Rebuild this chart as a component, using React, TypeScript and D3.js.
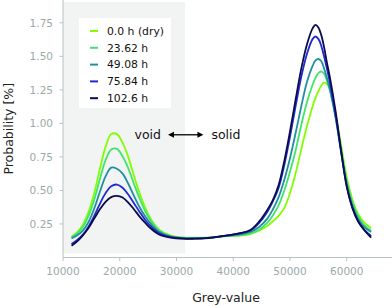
import React from 'react';
import * as d3 from 'd3';

// grey-value sample positions (x)
const greyValues = [
    11500, 12500, 13500, 14500, 15500, 16500, 17500, 18500, 19500, 20500, 21500, 22500, 23500, 24500, 25500, 27000, 29000, 31000,
    33000, 35000, 37000,
    39000, 41000, 43000, 44500, 46000, 47000, 48000, 49000, 50000, 51000, 52000, 53000, 54000, 54500, 55000, 55500, 56000, 56500, 57000, 58000, 59000, 60000, 61000, 62000, 63000, 64300,
];

const dry = [
    0.155, 0.19, 0.245, 0.34, 0.48, 0.66, 0.825, 0.92, 0.92, 0.855, 0.75, 0.61, 0.48, 0.37, 0.285, 0.205, 0.163, 0.15,
    0.148, 0.148, 0.152,
    0.16, 0.163, 0.175, 0.2, 0.235, 0.27, 0.31, 0.37, 0.48, 0.63, 0.81, 0.98, 1.13, 1.19, 1.24, 1.28, 1.303, 1.295, 1.26, 1.08, 0.84, 0.6, 0.43, 0.325, 0.265, 0.218,
];
const h23 = [
    0.15, 0.18, 0.228, 0.31, 0.43, 0.585, 0.725, 0.805, 0.81, 0.755, 0.665, 0.55, 0.44, 0.345, 0.272, 0.2, 0.16, 0.148,
    0.146, 0.147, 0.152,
    0.162, 0.165, 0.18, 0.205, 0.26, 0.315, 0.39, 0.5, 0.64, 0.8, 0.99, 1.16, 1.29, 1.34, 1.375, 1.387, 1.37, 1.32, 1.25, 1.06, 0.81, 0.57, 0.41, 0.31, 0.245, 0.2,
];
const h49 = [
    0.143, 0.165, 0.2, 0.265, 0.365, 0.49, 0.605, 0.67, 0.662, 0.625, 0.55, 0.46, 0.375, 0.305, 0.25, 0.19, 0.155, 0.145,
    0.143, 0.145, 0.152,
    0.163, 0.17, 0.19, 0.225, 0.29, 0.36, 0.45, 0.58, 0.74, 0.93, 1.13, 1.31, 1.43, 1.47, 1.48, 1.465, 1.41, 1.34, 1.26, 1.05, 0.79, 0.55, 0.39, 0.29, 0.23, 0.19,
];
const h75 = [
    0.10, 0.13, 0.17, 0.23, 0.31, 0.40, 0.48, 0.532, 0.544, 0.52, 0.47, 0.405, 0.34, 0.28, 0.232, 0.18, 0.152, 0.143,
    0.141, 0.144, 0.152,
    0.165, 0.178, 0.2, 0.255, 0.34, 0.42, 0.52, 0.69, 0.9, 1.13, 1.35, 1.52, 1.63, 1.648, 1.63, 1.58, 1.5, 1.41, 1.31, 1.07, 0.79, 0.53, 0.37, 0.27, 0.21, 0.16,
];
const h102 = [
    0.088, 0.12, 0.165, 0.22, 0.29, 0.36, 0.415, 0.45, 0.459, 0.447, 0.41, 0.36, 0.305, 0.258, 0.215, 0.17, 0.148, 0.14,
    0.14, 0.143, 0.153,
    0.165, 0.18, 0.205, 0.265, 0.355, 0.43, 0.54, 0.72, 0.94, 1.18, 1.41, 1.59, 1.71, 1.735, 1.715, 1.66, 1.57, 1.455, 1.35, 1.1, 0.8, 0.53, 0.37, 0.27, 0.21, 0.148,
];

const seriesLabels = ['0.0 h (dry)', '23.62 h', '49.08 h', '75.84 h', '102.6 h'];
const seriesColors = ['#7fff00', '#40e46a', '#20909f', '#1f2ad0', '#0b0b4e'];
const seriesValues = [dry, h23, h49, h75, h102];

const xTicks = [10000, 20000, 30000, 40000, 50000, 60000];
const yTicks = [0.25, 0.5, 0.75, 1.0, 1.25, 1.5, 1.75];

const width = 392;
const height = 306;
const font = '"DejaVu Sans", sans-serif';
const tickColor = '#9aa9aa';
const spineColor = '#b8c2c2';

const App: React.FC = () => {
    const xScale = d3.scaleLinear().domain([10000, 67800]).range([63, 391]);
    const yScale = d3.scaleLinear().domain([0, 1.92]).range([257.5, 0]);

    const line = d3.line<number>()
        .x((d, i) => xScale(greyValues[i]))
        .y(d => yScale(d))
        .curve(d3.curveCatmullRom.alpha(0.5));

    const x0 = xScale.range()[0];
    const y0 = yScale.range()[0];

    // void / solid boundary
    const boundary = 31500;
    const arrowY = yScale(0.915);
    const arrowL = xScale(28500);
    const arrowR = xScale(34750);

    return (
        <svg width={width} height={height} style={{ position: 'absolute', left: 0, top: 0, background: '#fff' }}
            fontFamily={font}>
            {/* shaded void region */}
            <rect x={xScale(10000)} y={yScale(1.905)} width={xScale(boundary) - xScale(10000)}
                height={yScale(0.03) - yScale(1.905)} fill="#f2f4f4" />

            {/* spines */}
            <line x1={x0} x2={x0} y1={0} y2={y0} stroke={spineColor} strokeWidth={1} />
            <line x1={x0} x2={width} y1={y0} y2={y0} stroke={spineColor} strokeWidth={1} />

            {/* y ticks */}
            {yTicks.map(t => (
                <g key={t}>
                    <line x1={x0 - 3.5} x2={x0} y1={yScale(t)} y2={yScale(t)} stroke={spineColor} />
                    <text x={x0 - 10} y={yScale(t)} dy="0.36em" textAnchor="end" fontSize={10.5} fill={tickColor}>
                        {t.toFixed(2)}
                    </text>
                </g>
            ))}

            {/* x ticks */}
            {xTicks.map(t => (
                <g key={t}>
                    <line x1={xScale(t)} x2={xScale(t)} y1={y0} y2={y0 + 3.5} stroke={spineColor} />
                    <text x={xScale(t)} y={y0 + 13.5} dy="0.36em" textAnchor="middle" fontSize={10.5} fill={tickColor}>
                        {t}
                    </text>
                </g>
            ))}

            {/* axis titles */}
            <text x={226} y={297} dy="0.36em" textAnchor="middle" fontSize={12.5} fill="#222">Grey-value</text>
            <text transform={`translate(8,${y0 / 2}) rotate(-90)`} dy="0.36em" textAnchor="middle" fontSize={12.5} fill="#222">
                Probability [%]
            </text>

            {/* curves */}
            {seriesValues.map((vals, i) => (
                <path key={seriesLabels[i]} d={line(vals) ?? ''} fill="none" stroke={seriesColors[i]}
                    strokeWidth={1.8} strokeLinejoin="round" />
            ))}

            {/* void <-> solid annotation */}
            <text x={arrowL - 7} y={arrowY} dy="0.36em" textAnchor="end" fontSize={12.5} fill="#111">void</text>
            <line x1={arrowL + 4} x2={arrowR - 4} y1={arrowY} y2={arrowY} stroke="#000" strokeWidth={1.3} />
            <path d={`M${arrowL},${arrowY} l6,-3 l0,6 z`} fill="#000" />
            <path d={`M${arrowR},${arrowY} l-6,-3 l0,6 z`} fill="#000" />
            <text x={arrowR + 8} y={arrowY} dy="0.36em" textAnchor="start" fontSize={12.5} fill="#111">solid</text>

            {/* legend */}
            <g transform="translate(79,18)">
                <rect x={0} y={0} width={92} height={90} fill="#fff" />
                {seriesLabels.map((label, i) => (
                    <g key={label} transform={`translate(0,${13 + i * 16.8})`}>
                        <line x1={11} x2={19} y1={0} y2={0} stroke={seriesColors[i]} strokeWidth={2} />
                        <text x={28} y={0} dy="0.36em" fontSize={10.8} fill="#111">{label}</text>
                    </g>
                ))}
            </g>
        </svg>
    );
};

export default App;
